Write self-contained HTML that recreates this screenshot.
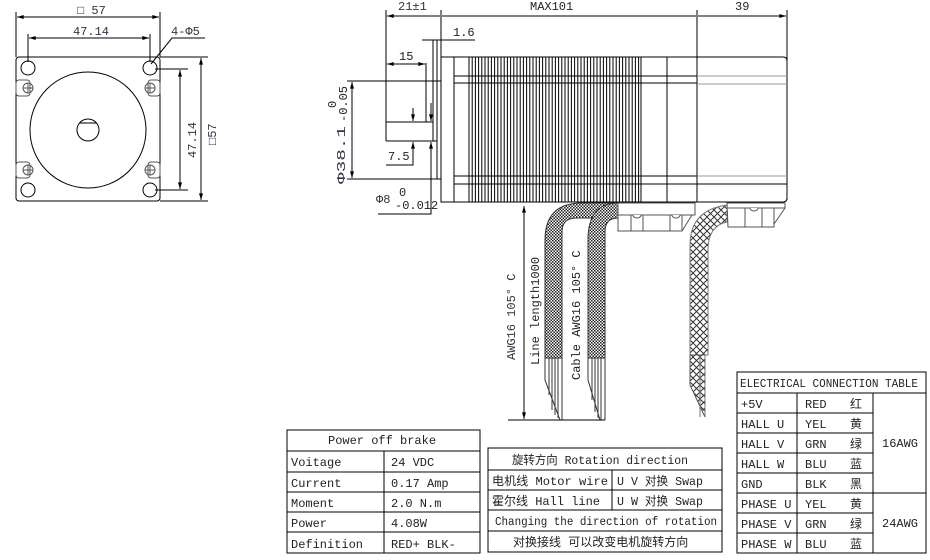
<!DOCTYPE html>
<html><head><meta charset="utf-8"><style>
html,body{margin:0;padding:0;background:#fff}
svg{display:block}
text{font-family:"Liberation Mono","Noto Sans CJK SC",monospace;font-size:12px;fill:#222}
.d{fill:#334}
</style></head><body>
<svg width="930" height="560" viewBox="0 0 930 560" xmlns="http://www.w3.org/2000/svg">
<defs>
<pattern id="h1" width="3" height="3" patternUnits="userSpaceOnUse"><rect width="3" height="3" fill="#fff"/><rect width="1.5" height="1.5" fill="#222"/><rect x="1.5" y="1.5" width="1.5" height="1.5" fill="#222"/></pattern>
<pattern id="h2" width="7" height="7" patternUnits="userSpaceOnUse"><rect width="7" height="7" fill="#fff"/><path d="M0 0L7 7M7 0L0 7" stroke="#333" stroke-width="1"/></pattern>
<marker id="a" viewBox="0 0 10 6" refX="10" refY="3" markerWidth="8" markerHeight="4" orient="auto-start-reverse"><path d="M0 0L10 3L0 6z" fill="#000"/></marker>
</defs>
<g fill="none" stroke="#000" stroke-width="1">
<rect x="16" y="57" width="144" height="144" rx="3"/>
<circle cx="28" cy="68" r="7"/><circle cx="150" cy="68" r="7"/><circle cx="28" cy="190" r="7"/><circle cx="150" cy="190" r="7"/>
<g stroke="#555">
<rect x="16" y="80" width="14" height="16" rx="3"/><circle cx="28" cy="88" r="5"/><path d="M23 88h10M28 83v10"/>
<rect x="148" y="80" width="12" height="16" rx="3"/><circle cx="150" cy="88" r="5"/><path d="M145 88h10M150 83v10"/>
<rect x="16" y="162" width="14" height="16" rx="3"/><circle cx="28" cy="170" r="5"/><path d="M23 170h10M28 165v10"/>
<rect x="148" y="162" width="12" height="16" rx="3"/><circle cx="150" cy="170" r="5"/><path d="M145 170h10M150 165v10"/>
</g>
<circle cx="88" cy="130" r="58"/>
<circle cx="88" cy="130" r="11"/><path d="M79 123h18"/>
<path d="M16 57V12M160 57V12"/>
<path d="M17 17H159" marker-start="url(#a)" marker-end="url(#a)"/>
<path d="M28 62V34M150 62V34"/>
<path d="M29 38H149" marker-start="url(#a)" marker-end="url(#a)"/>
<path d="M151 64L172 38H205"/>
<path d="M155 69H188M155 190H188"/>
<path d="M180 70V189" marker-start="url(#a)" marker-end="url(#a)"/>
<path d="M160 57H208M160 201H208"/>
<path d="M201 58V200" marker-start="url(#a)" marker-end="url(#a)"/>
</g>
<text x="77" y="14" class="d">□ 57</text>
<text x="73" y="35" class="d">47.14</text>
<text x="171" y="35" class="d">4-Φ5</text>
<text class="d" transform="translate(196,158) rotate(-90)">47.14</text>
<text class="d" transform="translate(216,145) rotate(-90)">□57</text>

<g fill="none" stroke="#000" stroke-width="1">
<path d="M386 10V141M441 10V202M697 10V57M787 10V200"/>
<path d="M387 16H440M442 16H696M698 16H786" marker-start="url(#a)" marker-end="url(#a)"/>
<rect x="441" y="57" width="256" height="145"/>
<path d="M454 57V202M667 57V202"/>
<path d="M454 76H697M454 83H697M454 176H697M454 184H697"/>
<path d="M697 57H783Q787 57 787 61V198Q787 202 783 202H697" />
<path d="M697 184H787"/>
<path d="M437 40V179M433 40V141"/>
<path d="M422 40H475"/>
<path d="M386 122H426V63M386 141H437"/>
<path d="M387 64H425" marker-start="url(#a)" marker-end="url(#a)"/>
<path d="M386 122H433"/>
<path d="M347 81H441M347 179H441"/>
<path d="M352 82V178" marker-start="url(#a)" marker-end="url(#a)"/>
<path d="M413 108V121" marker-end="url(#a)"/><path d="M413 142V165H386" marker-start="url(#a)"/>
<path d="M431 103V121" marker-end="url(#a)"/><path d="M431 142V214H378" marker-start="url(#a)"/>
</g>
<g stroke="#999" fill="none"><path d="M697 76H787M697 84H787M697 176H787"/></g>
<g stroke="#000" stroke-width="1">
<path d="M469 57V202M472.2 57V202M475.4 57V202M478.6 57V202M481.8 57V202M485 57V202M488.2 57V202M491.4 57V202M494.6 57V202M497.8 57V202M501 57V202M504.2 57V202M507.4 57V202M510.6 57V202M513.8 57V202M517 57V202M520.2 57V202M523.4 57V202M526.6 57V202M529.8 57V202M533 57V202M536.2 57V202M539.4 57V202M542.6 57V202M545.8 57V202M549 57V202M552.2 57V202M555.4 57V202M558.6 57V202M561.8 57V202M565 57V202M568.2 57V202M571.4 57V202M574.6 57V202M577.8 57V202M581 57V202M584.2 57V202M587.4 57V202M590.6 57V202M593.8 57V202M597 57V202M600.2 57V202M603.4 57V202M606.6 57V202M609.8 57V202M613 57V202M616.2 57V202M619.4 57V202M622.6 57V202M625.8 57V202M629 57V202M632.2 57V202M635.4 57V202M638.6 57V202M641 57V202"/>
</g>
<text x="398" y="10" class="d">21±1</text>
<text x="530" y="10">MAX101</text>
<text x="735" y="10" font-family="Liberation Sans">39</text>
<text x="453" y="36">1.6</text>
<text x="399" y="60">15</text>
<text x="388" y="160">7.5</text>
<text x="376" y="203" class="d" font-size="13">Φ8</text><text x="399" y="196" font-size="9">0</text><text x="395" y="209" font-size="10">-0.012</text>
<text class="d" font-size="13" transform="translate(345,184) rotate(-90)" textLength="58" lengthAdjust="spacingAndGlyphs">Φ38.1</text>
<text font-size="9" transform="translate(336,108) rotate(-90)">0</text>
<text font-size="9" transform="translate(347,122) rotate(-90)">-0.05</text>

<path d="M545 358V240Q545 203 582 203H618V218H576Q562 218 562 232V358Z" fill="url(#h1)" stroke="#333"/>
<path d="M588 358V240Q588 203 618 203V218Q605 218 605 232V358Z" fill="url(#h1)" stroke="#333"/>
<g stroke="#333" fill="none">
<path d="M545 358V380L560 420M549 358V395M552 358V410M555 358V415M558 358V418M562 358V420"/>
<path d="M588 358V380L600 420M592 358V400M595 358V412M598 358V418M601 358V420M605 358V420"/>
</g>
<path d="M690 355V245Q690 210 727 205V222Q708 226 708 250V355Z" fill="url(#h2)" stroke="#777"/>
<path d="M690 355V385L705 417V355Z" fill="url(#h2)" stroke="#555"/>
<path d="M700 355V417M705 355V417" stroke="#777"/>
<g fill="#fff" stroke="#555">
<path d="M618 203H695V215H692L682 231H618Z"/>
<path d="M631 215V231M643 215V231M670 215V231M682 215V231M618 215H692"/>
<path d="M727 203H785V208H774V227H728Z"/>
<path d="M774 208H785L774 224Z"/>
<path d="M728 208H774M745 208V227M762 208V227"/>
<path d="M633 215a4 3 0 0 0 8 0M672 215a4 3 0 0 0 8 0M750 208a4 3 0 0 0 8 0"/>
</g>
<g stroke="#000" fill="none">
<path d="M524 206V419" marker-start="url(#a)" marker-end="url(#a)"/>
<path d="M508 420H605"/>
</g>
<text class="d" transform="translate(515,360) rotate(-90)">AWG16 105° C</text>
<text transform="translate(539,365) rotate(-90)">Line length1000</text>
<text transform="translate(580,380) rotate(-90)">Cable AWG16 105° C</text>

<g fill="none" stroke="#000">
<rect x="287" y="430" width="193" height="123"/>
<path d="M287 451H480M287 472H480M287 492H480M287 512H480M287 532H480M384 451V553"/>
<rect x="488" y="448" width="234" height="104"/>
<path d="M488 470H722M488 490H722M488 510H722M488 531H722M612 470V510"/>
<rect x="737" y="372" width="189" height="181"/>
<path d="M737 393H926M737 413H873M737 433H873M737 453H873M737 473H873M737 493H926M737 513H873M737 533H873M797 393V553M873 393V553"/>
</g>
<text x="328" y="444">Power off brake</text>
<text x="291" y="466">Voitage</text><text x="391" y="466">24 VDC</text>
<text x="291" y="487">Current</text><text x="391" y="487">0.17 Amp</text>
<text x="291" y="507">Moment</text><text x="391" y="507">2.0 N.m</text>
<text x="291" y="527">Power</text><text x="391" y="527">4.08W</text>
<text x="291" y="548">Definition</text><text x="391" y="548">RED+ BLK-</text>

<text x="512" y="464" textLength="176" lengthAdjust="spacingAndGlyphs">旋转方向 Rotation direction</text>
<text x="492" y="485" textLength="116" lengthAdjust="spacingAndGlyphs">电机线 Motor wire</text><text x="617" y="485" textLength="86" lengthAdjust="spacingAndGlyphs">U V 对换 Swap</text>
<text x="492" y="505" textLength="108" lengthAdjust="spacingAndGlyphs">霍尔线 Hall line</text><text x="617" y="505" textLength="86" lengthAdjust="spacingAndGlyphs">U W 对换 Swap</text>
<text x="495" y="525" textLength="222" lengthAdjust="spacingAndGlyphs">Changing the direction of rotation</text>
<text x="513" y="546">对换接线 可以改变电机旋转方向</text>

<g font-size="11">
<text x="740" y="387" textLength="178" lengthAdjust="spacingAndGlyphs">ELECTRICAL CONNECTION TABLE</text>
<text x="741" y="408">+5V</text><text x="805" y="408">RED</text><text x="850" y="408">红</text>
<text x="741" y="428">HALL  U</text><text x="805" y="428">YEL</text><text x="850" y="428">黄</text>
<text x="741" y="448">HALL  V</text><text x="805" y="448">GRN</text><text x="850" y="448">绿</text>
<text x="741" y="468">HALL  W</text><text x="805" y="468">BLU</text><text x="850" y="468">蓝</text>
<text x="741" y="488">GND</text><text x="805" y="488">BLK</text><text x="850" y="488">黑</text>
<text x="741" y="508">PHASE U</text><text x="805" y="508">YEL</text><text x="850" y="508">黄</text>
<text x="741" y="528">PHASE V</text><text x="805" y="528">GRN</text><text x="850" y="528">绿</text>
<text x="741" y="548">PHASE W</text><text x="805" y="548">BLU</text><text x="850" y="548">蓝</text>
<text x="882" y="447">16AWG</text>
<text x="882" y="527">24AWG</text>
</g>
</svg>
</body></html>
